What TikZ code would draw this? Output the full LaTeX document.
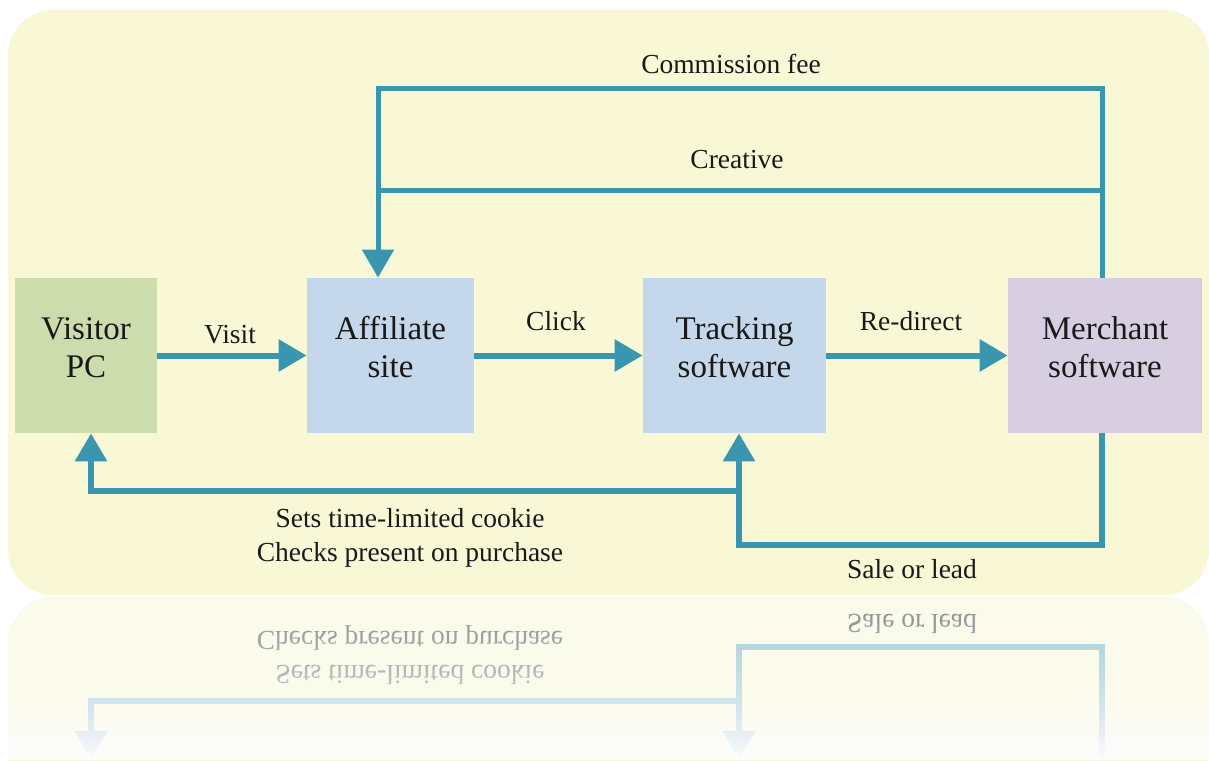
\documentclass[tikz,border=0pt]{standalone}
\usepackage{fontspec}
\setmainfont{Liberation Serif}
\usetikzlibrary{arrows.meta}

\definecolor{panel}{RGB}{248,248,215}
\definecolor{flowline}{RGB}{58,150,175}
\definecolor{visitorfill}{RGB}{205,220,173}
\definecolor{sitefill}{RGB}{197,215,235}
\definecolor{merchantfill}{RGB}{216,206,225}
\definecolor{inktext}{RGB}{25,25,25}

\tikzset{
  stagebox/.style={fill=#1, draw=none, minimum height=77.5pt, inner sep=0pt},
  stagetext/.style={font=\fontsize{16.5}{19}\selectfont, text=inktext, align=center, inner sep=0pt},
  flowlabel/.style={font=\fontsize{13.75}{17}\selectfont, text=inktext, anchor=base, inner sep=0pt},
  flow/.style={draw=flowline, line width=3pt},
  thinflow/.style={draw=flowline, line width=2.5pt},
  flowtip/.style={-{Triangle[length=14pt,width=15.5pt]}},
}

\begin{document}
\begin{tikzpicture}[x=0.5pt, y=-0.5pt]
  \useasboundingbox (0,0) rectangle (1209,760);
  \fill[white] (0,0) rectangle (1209,760);

  % panel
  \fill[panel, rounded corners=22.5pt] (8,10) rectangle (1209,595);

  % stages
  \node[stagebox=visitorfill, minimum width=71pt]    (visitor)   at (86,355.5)    {};
  \node[stagebox=sitefill, minimum width=83.5pt]     (affiliate) at (390.5,355.5) {};
  \node[stagebox=sitefill, minimum width=91.5pt]     (tracking)  at (734.5,355.5) {};
  \node[stagebox=merchantfill, minimum width=97pt]   (merchant)  at (1105,355.5)  {};
  \node[stagetext] (visitortxt)   at (86,347.5)    {Visitor\\PC};
  \node[stagetext] (affiliatetxt) at (390.5,347.5) {Affiliate\\site};
  \node[stagetext] (trackingtxt)  at (734.5,347.5) {Tracking\\software};
  \node[stagetext] (merchanttxt)  at (1105,347.5)  {Merchant\\software};

  % bends of the loops
  \coordinate (feeR)  at (1102,88);
  \coordinate (feeL)  at (378,88);
  \coordinate (crR)   at (1102,190);
  \coordinate (crL)   at (378,190);
  \coordinate (saleR) at (1102,545);
  \coordinate (saleL) at (739,545);
  \coordinate (cookR) at (739,491);
  \coordinate (cookL) at (91,491);

  % forward chain
  \draw[flow, flowtip] (visitor.east)   -- (affiliate.west);
  \draw[flow, flowtip] (affiliate.east) -- (tracking.west);
  \draw[flow, flowtip] (tracking.east)  -- (merchant.west);
  % merchant back to affiliate
  \draw[thinflow, flowtip] (merchant.north -| feeR) -- (feeR) -- (feeL) -- (feeL |- affiliate.north);
  \draw[thinflow] (crL) -- (crR);
  % sale reported to tracking, cookie to visitor
  \draw[flow, flowtip] (merchant.south -| saleR) -- (saleR) -- (saleL) -- (saleL |- tracking.south);
  \draw[flow, flowtip] (cookR) -- (cookL) -- (cookL |- visitor.south);

  % labels
  \node[flowlabel] (visitlbl)    at (230,343) {Visit};
  \node[flowlabel] (clicklbl)    at (556,330) {Click};
  \node[flowlabel] (redirectlbl) at (911,330) {Re-direct};
  \node[flowlabel] (feelbl)      at (731,73)  {Commission fee};
  \node[flowlabel] (creativelbl) at (737,168) {Creative};
  \node[flowlabel] (cookielbl)   at (410,527) {Sets time-limited cookie};
  \node[flowlabel] (checklbl)    at (410,561) {Checks present on purchase};
  \node[flowlabel] (salelbl)     at (912,578) {Sale or lead};

  % mirror image of the lower loops below the panel
  \begin{scope}[shift={(0,1192)}, yscale=-1, transform shape]
    \fill[panel, rounded corners=22.5pt] (8,10) rectangle (1209,595);
    \coordinate (m-visitor)  at (91,433);
    \coordinate (m-tracking) at (739,433);
    \coordinate (m-merchant) at (1102,433);
    \coordinate (m-saleR) at (1102,545);
    \coordinate (m-saleL) at (739,545);
    \coordinate (m-cookR) at (739,491);
    \coordinate (m-cookL) at (91,491);
    \draw[flow, flowtip] (m-merchant) -- (m-saleR) -- (m-saleL) -- (m-tracking);
    \draw[flow, flowtip] (m-cookR) -- (m-cookL) -- (m-visitor);
    \node[flowlabel] (m-cookielbl) at (410,527) {Sets time-limited cookie};
    \node[flowlabel] (m-checklbl)  at (410,561) {Checks present on purchase};
    \node[flowlabel] (m-salelbl)   at (912,578) {Sale or lead};
  \end{scope}

  % white veil over the mirror image, thickening downwards
  \fill[white, opacity=0.5] (0,596.5) rectangle (1209,760);
  \foreach \k in {0,...,39} {
    \pgfmathsetmacro\veil{0.012/(0.5-0.012*\k)}
    \fill[white, opacity=\veil] (0,600+4*\k) rectangle (1209,760);
  }
\end{tikzpicture}
\end{document}
